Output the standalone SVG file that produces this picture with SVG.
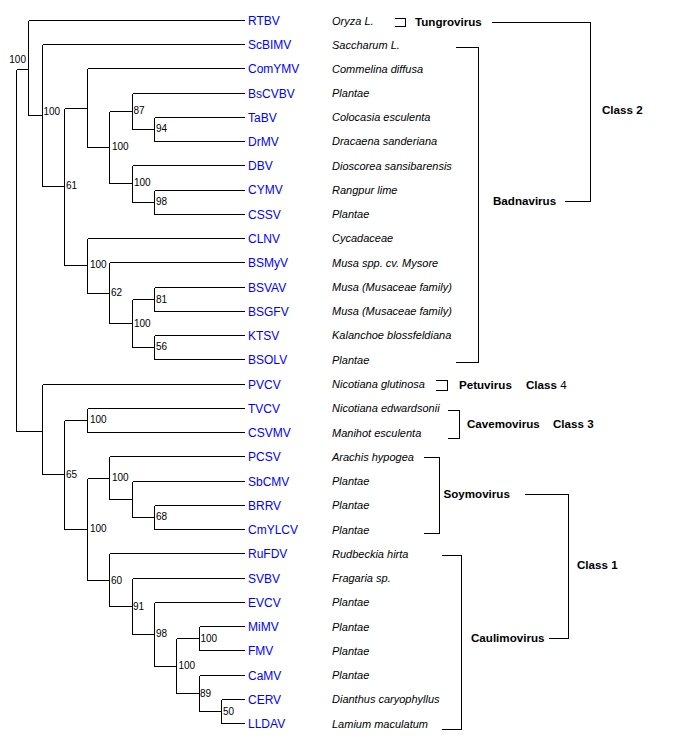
<svg xmlns="http://www.w3.org/2000/svg" width="673" height="752" viewBox="0 0 673 752">
<style>
.bg{fill:#fff}
.ln{fill:none;stroke:#000;stroke-width:1;shape-rendering:crispEdges}
.bs{font-family:"Liberation Sans",Arial,sans-serif;font-size:10px;fill:#000}
.nm{font-family:"Liberation Sans",Arial,sans-serif;font-size:12px;fill:#0000ff}
.ho{font-family:"Liberation Sans",Arial,sans-serif;font-size:11px;font-style:italic;fill:#000}
.gr{font-family:"Liberation Sans",Arial,sans-serif;font-size:11.6px;font-weight:bold;fill:#000}
</style>
<rect class="bg" x="0" y="0" width="673" height="752"/>
<g id="connectors" class="ln" transform="translate(0.5,0.5)">
<path d="M16,69V431M16,69H28M16,431H42"/>
<path d="M28,20V115M28,20H244M28,115H42"/>
<path d="M42,44V186M42,44H244M42,186H64"/>
<path d="M64,108V265M64,108H87M64,265H87"/>
<path d="M87,68V147M87,68H244M87,147H109"/>
<path d="M109,111V183M109,111H132M109,183H132"/>
<path d="M132,93V129M132,93H244M132,129H154"/>
<path d="M154,117V141M154,117H244M154,141H244"/>
<path d="M132,165V202M132,165H244M132,202H154"/>
<path d="M154,190V214M154,190H244M154,214H244"/>
<path d="M87,238V293M87,238H244M87,293H109"/>
<path d="M109,262V323M109,262H244M109,323H132"/>
<path d="M132,299V347M132,299H154M132,347H154"/>
<path d="M154,287V311M154,287H244M154,311H244"/>
<path d="M154,335V359M154,335H244M154,359H244"/>
<path d="M42,384V474M42,384H244M42,474H64"/>
<path d="M64,420V529M64,420H87M64,529H87"/>
<path d="M87,408V432M87,408H244M87,432H244"/>
<path d="M87,478V580M87,478H109M87,580H109"/>
<path d="M109,456V499M109,456H244M109,499H132"/>
<path d="M132,481V517M132,481H244M132,517H154"/>
<path d="M154,505V529M154,505H244M154,529H244"/>
<path d="M109,553V606M109,553H244M109,606H132"/>
<path d="M132,578V634M132,578H244M132,634H154"/>
<path d="M154,602V666M154,602H244M154,666H176"/>
<path d="M176,638V693M176,638H199M176,693H199"/>
<path d="M199,626V650M199,626H244M199,650H244"/>
<path d="M199,675V711M199,675H244M199,711H221"/>
<path d="M221,699V723M221,699H244M221,723H244"/>
</g>
<g id="brackets" class="ln" transform="translate(0.5,0.5)">
<path d="M394,18H405V26H394"/>
<path d="M455,47H478V362H455"/>
<path d="M491,22H590V201H564"/>
<path d="M435,380H447V390H435"/>
<path d="M447,410H459V438H447"/>
<path d="M423,457H439V533H423"/>
<path d="M524,494H568V638H548"/>
<path d="M441,555H461V729H441"/>
</g>
<g id="groups">
<text class="gr" x="415" y="26">Tungrovirus</text>
<text class="gr" x="493" y="205">Badnavirus</text>
<text class="gr" x="602" y="114">Class 2</text>
<text class="gr" x="459" y="389">Petuvirus</text>
<text class="gr" x="526" y="389">Class <tspan font-weight="normal">4</tspan></text>
<text class="gr" x="467" y="427.5">Cavemovirus</text>
<text class="gr" x="553" y="427.5">Class 3</text>
<text class="gr" x="443.5" y="498">Soymovirus</text>
<text class="gr" x="471" y="642">Caulimovirus</text>
<text class="gr" x="577" y="569">Class 1</text>
</g>
<g id="nodeA"><text class="bs" x="26" y="63" text-anchor="end">100</text></g>
<g id="nodeB"><text class="bs" x="43.5" y="115">100</text></g>
<g id="nodeC"><text class="bs" x="66" y="189">61</text></g>
<g id="nodeE"><text class="bs" x="112" y="150">100</text></g>
<g id="nodeF"><text class="bs" x="133.5" y="114">87</text></g>
<g id="nodeG"><text class="bs" x="156" y="132">94</text></g>
<g id="nodeH"><text class="bs" x="134" y="186">100</text></g>
<g id="nodeI"><text class="bs" x="156" y="205">98</text></g>
<g id="nodeJ"><text class="bs" x="90" y="268">100</text></g>
<g id="nodeK"><text class="bs" x="111" y="296">62</text></g>
<g id="nodeL"><text class="bs" x="134" y="326.5">100</text></g>
<g id="nodeM"><text class="bs" x="156" y="302.5">81</text></g>
<g id="nodeN"><text class="bs" x="156" y="350">56</text></g>
<g id="nodeP"><text class="bs" x="66" y="477.5">65</text></g>
<g id="nodeQ"><text class="bs" x="90" y="423">100</text></g>
<g id="nodeR"><text class="bs" x="90" y="532">100</text></g>
<g id="nodeS"><text class="bs" x="112" y="481">100</text></g>
<g id="nodeU"><text class="bs" x="156" y="520">68</text></g>
<g id="nodeV"><text class="bs" x="111" y="583.5">60</text></g>
<g id="nodeW"><text class="bs" x="133" y="609.5">91</text></g>
<g id="nodeX"><text class="bs" x="156" y="637">98</text></g>
<g id="nodeY"><text class="bs" x="178.5" y="669">100</text></g>
<g id="nodeZ"><text class="bs" x="200.5" y="642">100</text></g>
<g id="nodeAA"><text class="bs" x="200" y="696.5">89</text></g>
<g id="nodeAB"><text class="bs" x="223" y="714.5">50</text></g>
<g id="leaf-RTBV"><text class="nm" x="248" y="25">RTBV</text><text class="ho" x="332" y="24.5">Oryza L.</text></g>
<g id="leaf-ScBIMV"><text class="nm" x="248" y="49">ScBIMV</text><text class="ho" x="332" y="48.5">Saccharum L.</text></g>
<g id="leaf-ComYMV"><text class="nm" x="248" y="73">ComYMV</text><text class="ho" x="332" y="72.5">Commelina diffusa</text></g>
<g id="leaf-BsCVBV"><text class="nm" x="248" y="97.5">BsCVBV</text><text class="ho" x="332" y="97">Plantae</text></g>
<g id="leaf-TaBV"><text class="nm" x="248" y="121.5">TaBV</text><text class="ho" x="332" y="121">Colocasia esculenta</text></g>
<g id="leaf-DrMV"><text class="nm" x="248" y="145.5">DrMV</text><text class="ho" x="332" y="145">Dracaena sanderiana</text></g>
<g id="leaf-DBV"><text class="nm" x="248" y="170">DBV</text><text class="ho" x="332" y="169.5">Dioscorea sansibarensis</text></g>
<g id="leaf-CYMV"><text class="nm" x="248" y="194">CYMV</text><text class="ho" x="332" y="193.5">Rangpur lime</text></g>
<g id="leaf-CSSV"><text class="nm" x="248" y="218.5">CSSV</text><text class="ho" x="332" y="218">Plantae</text></g>
<g id="leaf-CLNV"><text class="nm" x="248" y="242.5">CLNV</text><text class="ho" x="332" y="242">Cycadaceae</text></g>
<g id="leaf-BSMyV"><text class="nm" x="248" y="267">BSMyV</text><text class="ho" x="332" y="266.5">Musa spp. cv. Mysore</text></g>
<g id="leaf-BSVAV"><text class="nm" x="248" y="291.5">BSVAV</text><text class="ho" x="332" y="291">Musa (Musaceae family)</text></g>
<g id="leaf-BSGFV"><text class="nm" x="248" y="315.5">BSGFV</text><text class="ho" x="332" y="315">Musa (Musaceae family)</text></g>
<g id="leaf-KTSV"><text class="nm" x="248" y="339.5">KTSV</text><text class="ho" x="332" y="339">Kalanchoe blossfeldiana</text></g>
<g id="leaf-BSOLV"><text class="nm" x="248" y="364">BSOLV</text><text class="ho" x="332" y="363.5">Plantae</text></g>
<g id="leaf-PVCV"><text class="nm" x="248" y="388.5">PVCV</text><text class="ho" x="332" y="388">Nicotiana glutinosa</text></g>
<g id="leaf-TVCV"><text class="nm" x="248" y="412.5">TVCV</text><text class="ho" x="332" y="412">Nicotiana edwardsonii</text></g>
<g id="leaf-CSVMV"><text class="nm" x="248" y="437">CSVMV</text><text class="ho" x="332" y="436.5">Manihot esculenta</text></g>
<g id="leaf-PCSV"><text class="nm" x="248" y="461">PCSV</text><text class="ho" x="332" y="460.5">Arachis hypogea</text></g>
<g id="leaf-SbCMV"><text class="nm" x="248" y="485.5">SbCMV</text><text class="ho" x="332" y="485">Plantae</text></g>
<g id="leaf-BRRV"><text class="nm" x="248" y="509.5">BRRV</text><text class="ho" x="332" y="509">Plantae</text></g>
<g id="leaf-CmYLCV"><text class="nm" x="248" y="534">CmYLCV</text><text class="ho" x="332" y="533.5">Plantae</text></g>
<g id="leaf-RuFDV"><text class="nm" x="248" y="558">RuFDV</text><text class="ho" x="332" y="557.5">Rudbeckia hirta</text></g>
<g id="leaf-SVBV"><text class="nm" x="248" y="582.5">SVBV</text><text class="ho" x="332" y="582">Fragaria sp.</text></g>
<g id="leaf-EVCV"><text class="nm" x="248" y="606.5">EVCV</text><text class="ho" x="332" y="606">Plantae</text></g>
<g id="leaf-MiMV"><text class="nm" x="248" y="631">MiMV</text><text class="ho" x="332" y="630.5">Plantae</text></g>
<g id="leaf-FMV"><text class="nm" x="248" y="655">FMV</text><text class="ho" x="332" y="654.5">Plantae</text></g>
<g id="leaf-CaMV"><text class="nm" x="248" y="679.5">CaMV</text><text class="ho" x="332" y="679">Plantae</text></g>
<g id="leaf-CERV"><text class="nm" x="248" y="703.5">CERV</text><text class="ho" x="332" y="703">Dianthus caryophyllus</text></g>
<g id="leaf-LLDAV"><text class="nm" x="248" y="728">LLDAV</text><text class="ho" x="332" y="727.5">Lamium maculatum</text></g>
</svg>
